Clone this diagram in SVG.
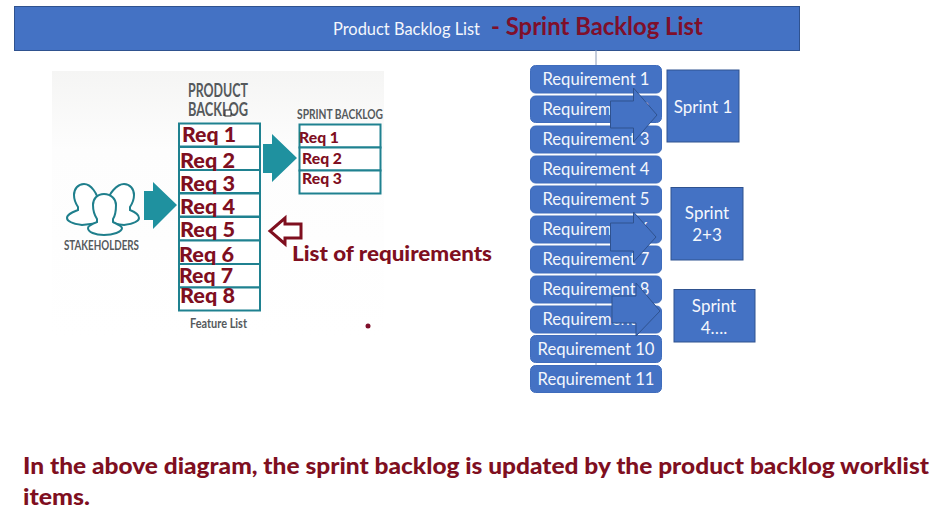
<svg xmlns="http://www.w3.org/2000/svg" width="933" height="517" viewBox="0 0 933 517">
<style>
text{font-family:Lato,"Open Sans","Liberation Sans",sans-serif}
.req rect{fill:#4472c4;stroke:#3f6cbc;stroke-width:1}
.req text{fill:#f4f7fc;font-size:17px;text-anchor:middle}
.spr rect{fill:#4472c4;stroke:#2f528f;stroke-width:1}
.spr text{fill:#f4f7fc;font-size:17px;text-anchor:middle}
.arr{fill:#4472c4;stroke:#2f528f;stroke-width:1}
.box{fill:#fff;stroke:#1f8190;stroke-width:2}
.r{fill:#7f0f1f;font-weight:900}
.teal{fill:#1f919f}
.out{fill:#fff;stroke:#1f7f8c;stroke-width:2}
.g{fill:#55595c;font-weight:700}
</style>
<defs>
<linearGradient id="bg" x1="0" y1="0" x2="0" y2="1"><stop offset="0" stop-color="#f5f5f4"/><stop offset=".3" stop-color="#fdfdfd"/><stop offset="1" stop-color="#ffffff"/></linearGradient>
</defs>
<rect x="52" y="71" width="332" height="265" fill="url(#bg)"/>
<g id="header">
<rect x="14.500" y="6.500" width="785" height="44" fill="#4472c4" stroke="#2f528f"/>
<text x="333" y="35" font-size="17" fill="#f4f7fc" textLength="147" lengthAdjust="spacingAndGlyphs">Product Backlog List</text>
<text x="491" y="35" font-size="25" font-weight="700" fill="#7f0f2a" textLength="212" lengthAdjust="spacingAndGlyphs">- Sprint Backlog List</text>
</g>
<g id="connectors">
<line x1="596" y1="50" x2="596" y2="385" stroke="#8a9ab8" stroke-width="1"/>
</g>
<g id="req1" class="req"><rect x="530.500" y="65.500" width="131" height="27.500" rx="5"/><text x="596" y="85" textLength="107" lengthAdjust="spacingAndGlyphs">Requirement 1</text></g>
<g id="req2" class="req"><rect x="530.500" y="96" width="131" height="26.500" rx="5"/><text x="596" y="115" textLength="107" lengthAdjust="spacingAndGlyphs">Requirement 2</text></g>
<g id="req3" class="req"><rect x="530.500" y="126" width="131" height="27" rx="5"/><text x="596" y="145" textLength="107" lengthAdjust="spacingAndGlyphs">Requirement 3</text></g>
<g id="req4" class="req"><rect x="530.500" y="156" width="131" height="27" rx="5"/><text x="596" y="175" textLength="107" lengthAdjust="spacingAndGlyphs">Requirement 4</text></g>
<g id="req5" class="req"><rect x="530.500" y="186" width="131" height="27" rx="5"/><text x="596" y="205" textLength="107" lengthAdjust="spacingAndGlyphs">Requirement 5</text></g>
<g id="req6" class="req"><rect x="530.500" y="216" width="131" height="27" rx="5"/><text x="596" y="235" textLength="107" lengthAdjust="spacingAndGlyphs">Requirement 6</text></g>
<g id="req7" class="req"><rect x="530.500" y="246" width="131" height="27" rx="5"/><text x="596" y="265" textLength="107" lengthAdjust="spacingAndGlyphs">Requirement 7</text></g>
<g id="req8" class="req"><rect x="530.500" y="276" width="131" height="27" rx="5"/><text x="596" y="295" textLength="107" lengthAdjust="spacingAndGlyphs">Requirement 8</text></g>
<g id="req9" class="req"><rect x="530.500" y="306" width="131" height="27" rx="5"/><text x="596" y="325" textLength="107" lengthAdjust="spacingAndGlyphs">Requirement 9</text></g>
<g id="req10" class="req"><rect x="530.500" y="335.500" width="131" height="27" rx="5"/><text x="596" y="355" textLength="117" lengthAdjust="spacingAndGlyphs">Requirement 10</text></g>
<g id="req11" class="req"><rect x="530.500" y="365.500" width="131" height="27" rx="5"/><text x="596" y="385" textLength="117" lengthAdjust="spacingAndGlyphs">Requirement 11</text></g>
<g id="arrows">
<polygon class="arr" points="610.500,101 633.500,101 633.500,88 657,115 633.500,142 633.500,128 610.500,128"/>
<polygon class="arr" points="610.500,223 633.500,223 633.500,212 656,237 633.500,262 633.500,251 610.500,251"/>
<polygon class="arr" points="612,296 636,296 636,283 660,311 636,336 636,323 612,323"/>
</g>
<g id="sprint1" class="spr"><rect x="667" y="70" width="72" height="72"/><text x="703" y="113">Sprint 1</text></g>
<g id="sprint2" class="spr"><rect x="671" y="187.500" width="72" height="72.500"/><text x="707" y="219">Sprint</text><text x="707" y="241">2+3</text></g>
<g id="sprint3" class="spr"><rect x="674" y="289.500" width="81" height="52.500"/><text x="714" y="312">Sprint</text><text x="714" y="334">4….</text></g>
<g id="stakeholders">
<path class="out" d="M84 184c-6 0-10 5-10 11 0 6 2 9 4 12v3c-5 2-11 4-11 8 0 4 8 6 15 7l17-2 4-14c-3-2-4-4-5-7 0-8-7-18-14-18z"/>
<path class="out" d="M124 184c6 0 10 5 10 11 0 6-2 9-4 12v3c5 2 9 4 9 8 0 4-8 6-15 7l-17-2-4-14c3-2 4-4 5-7 0-8 9-18 16-18z"/>
<path class="out" d="M104 194c-7 0-11 5-11 11 0 7 2 11 4 14v3c-5 2-9 4-9 6 0 4 7 7 16 7s18-3 18-7c0-2-5-4-9-6v-3c2-3 3-7 3-14 0-6-5-11-12-11z"/>
<text class="g" x="64" y="250" font-size="13.500" textLength="75" lengthAdjust="spacingAndGlyphs">STAKEHOLDERS</text>
</g>
<polygon id="arrow-stake" class="teal" points="144,191 153,191 153,182 177,205 153,229 153,220 144,220"/>
<polygon id="arrow-backlog" class="teal" points="263,144 272,144 272,134 297,158 272,182 272,173 263,173"/>
<g id="product-backlog">
<text class="g" x="188" y="97" font-size="19" textLength="60" lengthAdjust="spacingAndGlyphs">PRODUCT</text>
<text class="g" x="188" y="116" font-size="19" textLength="60" lengthAdjust="spacingAndGlyphs">BACKLOG</text>
<rect x="225" y="110" width="6" height="6" fill="#fff" stroke="#222" stroke-width="1"/>
<rect class="box" x="179" y="123.500" width="81" height="23"/>
<rect class="box" x="179" y="147" width="81" height="23"/>
<rect class="box" x="179" y="170" width="81" height="23"/>
<rect class="box" x="179" y="193.500" width="81" height="23"/>
<rect class="box" x="179" y="217" width="81" height="23.500"/>
<rect class="box" x="179" y="240.500" width="81" height="23.500"/>
<rect class="box" x="179" y="264" width="81" height="23.500"/>
<rect class="box" x="179" y="287.500" width="81" height="23"/>
<text class="r" x="182" y="142" font-size="21" textLength="54" lengthAdjust="spacingAndGlyphs">Req 1</text>
<text class="r" x="180" y="168" font-size="21" textLength="55" lengthAdjust="spacingAndGlyphs">Req 2</text>
<text class="r" x="180" y="191" font-size="21" textLength="55" lengthAdjust="spacingAndGlyphs">Req 3</text>
<text class="r" x="180" y="214" font-size="21" textLength="55" lengthAdjust="spacingAndGlyphs">Req 4</text>
<text class="r" x="180" y="237" font-size="21" textLength="55" lengthAdjust="spacingAndGlyphs">Req 5</text>
<text class="r" x="179" y="262" font-size="21" textLength="55" lengthAdjust="spacingAndGlyphs">Req 6</text>
<text class="r" x="179" y="283" font-size="21" textLength="54" lengthAdjust="spacingAndGlyphs">Req 7</text>
<text class="r" x="180" y="303" font-size="21" textLength="55" lengthAdjust="spacingAndGlyphs">Req 8</text>
<text class="g" x="190" y="328" font-size="14" textLength="57" lengthAdjust="spacingAndGlyphs">Feature List</text>
</g>
<g id="sprint-backlog">
<text class="g" x="297" y="119" font-size="14" textLength="86" lengthAdjust="spacingAndGlyphs">SPRINT  BACKLOG</text>
<rect class="box" x="299.500" y="124.500" width="81" height="23"/>
<rect class="box" x="299.500" y="147.500" width="81" height="23"/>
<rect class="box" x="299.500" y="170.500" width="81" height="23"/>
<text class="r" x="299" y="143" font-size="15.500" textLength="40" lengthAdjust="spacingAndGlyphs">Req 1</text>
<text class="r" x="302" y="164" font-size="15.500" textLength="40" lengthAdjust="spacingAndGlyphs">Req 2</text>
<text class="r" x="302" y="184" font-size="15.500" textLength="40" lengthAdjust="spacingAndGlyphs">Req 3</text>
</g>
<g id="list-note">
<polygon points="301,224 301,238 285,238 285,244 270,231 285,218 285,224" fill="#fff" stroke="#7f0f1f" stroke-width="3"/>
<text class="r" x="292" y="261" font-size="21" textLength="200" lengthAdjust="spacingAndGlyphs">List of requirements</text>
</g>
<circle cx="368" cy="326" r="2.500" fill="#7f0f2a"/>
<g id="caption">
<text class="r" x="23" y="474" font-size="23.500" textLength="906" lengthAdjust="spacingAndGlyphs">In the above diagram, the sprint backlog is updated by the product backlog worklist</text>
<text class="r" x="23" y="505" font-size="23.500" textLength="67" lengthAdjust="spacingAndGlyphs">items.</text>
</g>
</svg>
